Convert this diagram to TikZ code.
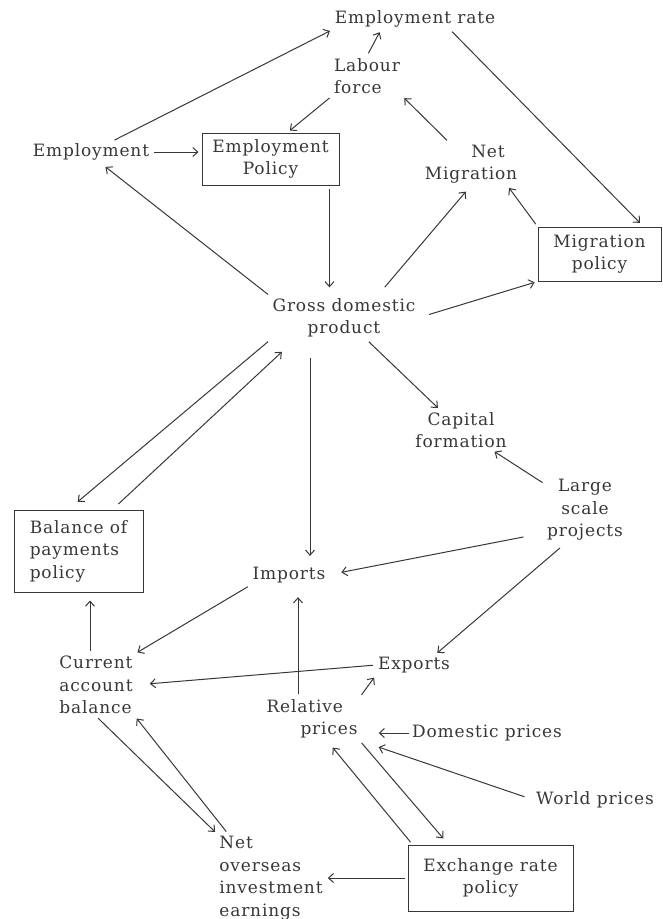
\documentclass[tikz,border=0pt]{standalone}
\usepackage{fontspec}
\setmainfont[LetterSpace=5]{DejaVu Serif}
\usetikzlibrary{arrows.meta}
\definecolor{ink}{RGB}{55,55,55}

\begin{document}
\begin{tikzpicture}[x=1pt,y=-1pt,
  every node/.style={text=ink,font=\fontsize{17}{22.5}\selectfont,inner sep=2pt},
  box/.style={draw=ink,line width=1pt},
  link/.style={draw=ink,line width=1pt,-{Straight Barb[length=5pt,width=9pt]},shorten <=3pt,shorten >=3pt}]
  \useasboundingbox (0,0) rectangle (662,919);

  \node (emprate) at (415,19) {Employment rate};
  \node[align=left] (labour) at (367,76) {Labour\\force};
  \node (employment) at (91,152) {Employment};
  \node[box,align=center,minimum width=137pt,minimum height=52pt] (emppolicy) at (270.5,159) {Employment\\Policy};
  \node[align=center] (netmig) at (471,164) {\hspace*{2em}Net\\Migration};
  \node[box,align=center,minimum width=123pt,minimum height=54pt] (migpolicy) at (599.5,254) {Migration\\policy};
  \node[align=center] (gdp) at (344,318) {Gross domestic\\product};
  \node[align=center] (capital) at (461,430) {Capital\\formation};
  \node[align=center] (large) at (585,510) {Large\\scale\\projects};
  \node[box,align=left,minimum width=129pt,minimum height=82pt] (bop) at (78.5,551) {Balance of\\payments\\policy};
  \node (imports) at (289,575) {Imports};
  \node[align=left] (current) at (96,685) {Current\\account\\balance};
  \node (exports) at (414,665) {Exports};
  \node[align=left] (relative) at (312,719) {Relative\\\hspace*{2em}prices};
  \node (domestic) at (487,733) {Domestic prices};
  \node (world) at (595,800) {World prices};
  \node[align=left] (netover) at (271,878) {Net\\overseas\\investment\\earnings};
  \node[box,align=center,minimum width=165pt,minimum height=66pt] (exchange) at (490.5,878) {Exchange rate\\policy};

  % labour market
  \draw[link] (employment) -- (emprate.south west);
  \draw[link] (labour.north) -- ([xshift=-34pt]emprate.south);
  \draw[link] (labour.south west) -- ([xshift=17pt]emppolicy.north);
  \draw[link] (employment) -- (employment -| emppolicy.west);
  \draw[link] (netmig) -- (labour.south east);
  \draw[link,shorten >=5pt] ([xshift=35pt]emprate.south) -- ([xshift=44pt]migpolicy.north);
  \draw[link,shorten >=7pt] (gdp.north west) -- ([xshift=9pt]employment.south);
  \draw[link,shorten >=9pt] ([xshift=-10pt]emppolicy.south east) -- ([xshift=-10pt]emppolicy.south east |- gdp.north);
  \draw[link,shorten <=12pt,shorten >=8pt] ([xshift=33pt]gdp.north) -- (netmig.south);
  \draw[link] (migpolicy.north west) -- ([xshift=-12pt]netmig.south east);
  \draw[link,shorten <=12pt] (gdp.east) -- (migpolicy.south west);

  % output and trade
  \draw[link] (gdp) -- (capital);
  \draw[link] (large) -- (capital);
  \draw[link,shorten >=12pt] (gdp.south west) -- ([xshift=-10pt]bop.north);
  \draw[link,shorten <=8pt,shorten >=18pt] ([xshift=34pt]bop.north) -- ([xshift=-49pt]gdp.south);
  \draw[link,shorten <=18pt,shorten >=9pt] ([xshift=-34pt]gdp.south) -- ([xshift=-34pt]gdp.south |- imports.north);
  \draw[link,shorten <=22pt,shorten >=14pt] ([yshift=10pt]large.south west) -- (imports.east);
  \draw[link,shorten <=8pt] ([xshift=-19pt]large.south) -- ([xshift=21pt]exports.north);
  \draw[link] (imports.south west) -- (current.north east);
  \draw[link,shorten >=8pt] ([xshift=-6pt]current.north) -- ([xshift=-6pt]current.north |- bop.south);
  \draw[link,shorten >=15pt] (exports.west) -- (current.east);
  \draw[link,shorten >=12pt] ([xshift=-14pt]relative.north) -- ([xshift=-14pt]relative.north |- imports.south);
  \draw[link] (relative.north east) -- (exports.south west);

  % prices and exchange rate
  \draw[link,shorten <=1pt,shorten >=19pt] (domestic.west) -- (domestic.west -| relative.east);
  \draw[link,shorten <=10pt,shorten >=20pt] (world.west) -- (relative.south east);
  \draw[link,shorten >=8pt] (relative.south east) -- ([xshift=-42pt]exchange.north);
  \draw[link,shorten >=9pt] ([xshift=5pt]exchange.north west) -- ([xshift=15pt]relative.south);
  \draw[link] (current.south) -- (netover.north west);
  \draw[link] ([xshift=11pt]netover.north west) -- (current.south east);
  \draw[link] (exchange.west) -- (netover.east);
\end{tikzpicture}
\end{document}
